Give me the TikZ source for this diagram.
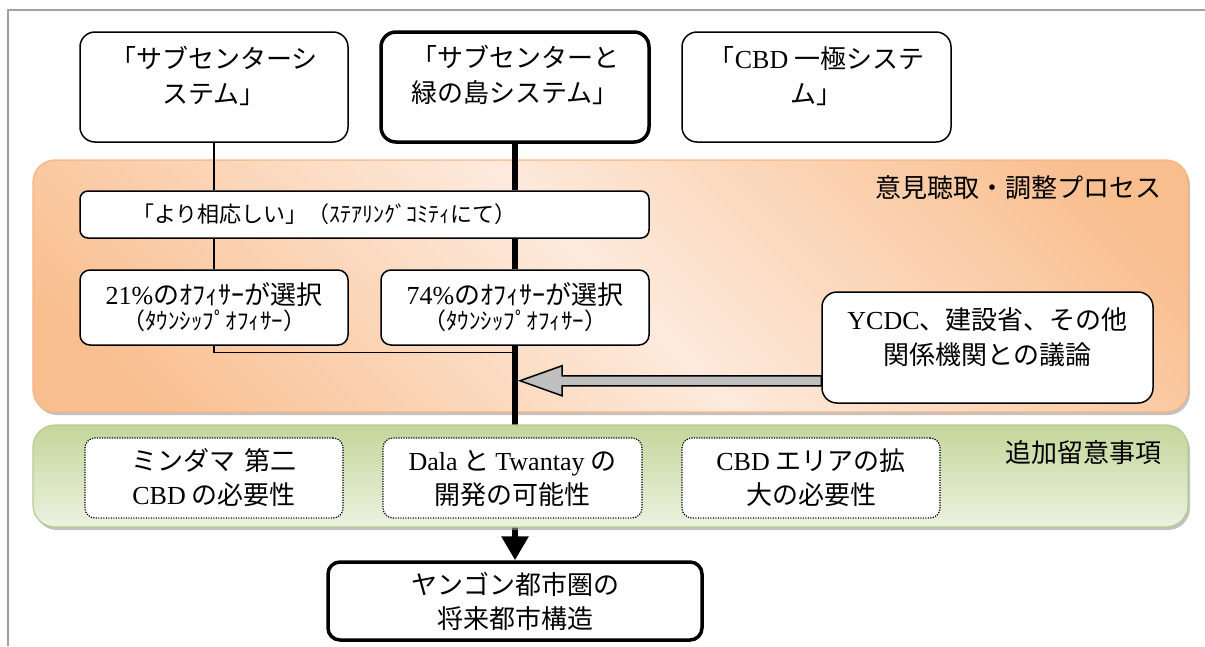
\documentclass[tikz,border=0pt]{standalone}
\usepackage{fontspec}
\setmainfont{Liberation Serif}
\newfontfamily\jp{Noto Sans CJK JP}
\usetikzlibrary{arrows.meta,calc}
\pgfdeclarelayer{bandA}
\pgfdeclarelayer{lines}
\pgfdeclarelayer{bandB}
\pgfsetlayers{bandA,lines,bandB,main}
\definecolor{orD}{RGB}{249,190,142}
\definecolor{orL}{RGB}{253,234,220}
\definecolor{orB}{RGB}{246,180,128}
\definecolor{grT}{RGB}{195,214,155}
\definecolor{grB}{RGB}{236,242,224}
\definecolor{grE}{RGB}{182,204,142}
\definecolor{frameg}{RGB}{160,160,160}
\definecolor{arrg}{RGB}{191,191,191}
\pgfdeclarehorizontalshading{orsh}{100bp}{color(0bp)=(orD); color(20bp)=(orD); color(50bp)=(orL); color(80bp)=(orD); color(100bp)=(orD)}
\newcommand\romn[1]{{\rmfamily #1}}
\tikzset{
  tbox/.style={draw, line width=1.5pt, rounded corners=15pt, fill=white, inner sep=0pt},
  kbox/.style={draw, line width=3.5pt, rounded corners=15pt, fill=white, inner sep=0pt},
  sbox/.style={draw, line width=1.5pt, rounded corners=10pt, fill=white, inner sep=0pt,
    font=\jp\fontsize{26}{28}\selectfont, align=center},
  dbox/.style={draw, line width=1.2pt, dash pattern=on 1.2pt off 1.3pt, rounded corners=10pt,
    fill=white, inner sep=0pt, font=\jp\fontsize{26}{34}\selectfont, align=center},
  txt/.style={font=\jp\fontsize{26}{35}\selectfont, align=center, inner sep=0pt},
  thinln/.style={line width=1.2pt, black},
  thickln/.style={line width=6pt, black},
  grayarr/.style={draw=black, line width=1.5pt, fill=arrg, line join=miter},
}
\begin{document}
\begin{tikzpicture}[x=1pt,y=-1pt]
\useasboundingbox (0,0) rectangle (1205,646);
% frame
\draw[frameg, line width=2pt] (1205,10) -- (8,10) -- (8,646);

% bands
\begin{pgfonlayer}{bandA}
\fill[black!40, opacity=0.6, rounded corners=22pt] (35,163) rectangle (1190,415);
\shadedraw[shading=orsh, shading angle=45, draw=orB, line width=1.2pt, rounded corners=22pt] (33,160) rectangle (1188,412);
\end{pgfonlayer}
\begin{pgfonlayer}{bandB}
\fill[black!40, opacity=0.6, rounded corners=22pt] (35,428) rectangle (1190,530);
\shadedraw[top color=grT, bottom color=grB, draw=grE, line width=1.2pt, rounded corners=22pt] (33,425) rectangle (1188,527);
\end{pgfonlayer}

% top boxes
\node[tbox, minimum width=268pt, minimum height=110pt] (b1) at (214,87) {};
\node[kbox, minimum width=268pt, minimum height=110pt] (b2) at (515,87) {};
\node[tbox, minimum width=269pt, minimum height=110pt] (b3) at (816.5,87) {};
\node[txt, anchor=north] (b1t) at ($(b1.north)+(0,15)$) {「サブセンターシ\\ステム」};
\node[txt, anchor=north] (b2t) at ($(b2.north)+(0,15)$) {「サブセンターと\\緑の島システム」};
\node[txt, anchor=north] (b3t) at ($(b3.north)+(0,15)$) {「\romn{CBD} 一極システ\\ム」};

% labels
\node[txt, anchor=east] (lbl1) at (1162,188) {意見聴取・調整プロセス};
\node[txt, anchor=east] (lbl2) at (1162,453) {追加留意事項};

% process boxes
\node[sbox, rounded corners=8pt, minimum width=569pt, minimum height=47pt,
  font=\jp\fontsize{22}{26}\selectfont] (yori) at (364.5,214.5) {「より相応しい」（ｽﾃｱﾘﾝｸﾞｺﾐﾃｨにて）\hspace*{80pt}};
\node[sbox, minimum width=268pt, minimum height=75pt] (p21) at (214,307.5)
  {\romn{21\%}のｵﾌｨｻｰが選択\\[-3pt]{\fontsize{23}{24}\selectfont （ﾀｳﾝｼｯﾌﾟｵﾌｨｻｰ）}};
\node[sbox, minimum width=268pt, minimum height=75pt] (p74) at (515,307.5)
  {\romn{74\%}のｵﾌｨｻｰが選択\\[-3pt]{\fontsize{23}{24}\selectfont （ﾀｳﾝｼｯﾌﾟｵﾌｨｻｰ）}};
\node[tbox, minimum width=331pt, minimum height=111pt] (ycdc) at (987.5,347.5) {};
\node[txt, anchor=north] (ycdct) at ($(ycdc.north)+(0,16)$) {\romn{YCDC}、建設省、その他\\関係機関との議論};

% consideration boxes
\node[dbox, minimum width=258pt, minimum height=80pt] (d1) at (214,478) {ミンダマ\hspace{10pt}第二\\\romn{CBD} の必要性};
\node[dbox, minimum width=259pt, minimum height=80pt] (d2) at (512.5,478) {\romn{Dala} と \romn{Twantay} の\\開発の可能性};
\node[dbox, minimum width=258pt, minimum height=80pt] (d3) at (811,478) {\romn{CBD} エリアの拡\\大の必要性};

% final box
\node[sbox, line width=3.5pt, rounded corners=12pt, minimum width=374pt, minimum height=78pt,
  font=\jp\fontsize{26}{34}\selectfont] (fin) at (515,601) {ヤンゴン都市圏の\\将来都市構造};

% connectors
\begin{pgfonlayer}{lines}
\draw[thinln] (b1.south) -- (b1.south |- yori.north);
\draw[thinln] (yori.south -| p21.north) -- (p21.north);
\draw[thinln] (p21.south) |- ($(p74.south)+(0,7)$);
\draw[thickln] (b2.south) -- (b2.south |- yori.north);
\draw[thickln] (yori.south -| p74.north) -- (p74.north);
\draw[thickln, -{Triangle[width=26pt,length=24pt]}] (p74.south) -- (fin.north);
\end{pgfonlayer}

% gray block arrow
\coordinate (gtip) at ($(p74.south)+(5,35)$);
\coordinate (gend) at ($(ycdc.south west)+(0,-23)$);
\draw[grayarr] (gtip) -- ($(gtip)+(42,-15)$) -- ($(gtip)+(42,-5)$) -- ($(gend)+(0,-5)$)
  -- ($(gend)+(0,5)$) -- ($(gtip)+(42,5)$) -- ($(gtip)+(42,15)$) -- cycle;
\end{tikzpicture}
\end{document}
